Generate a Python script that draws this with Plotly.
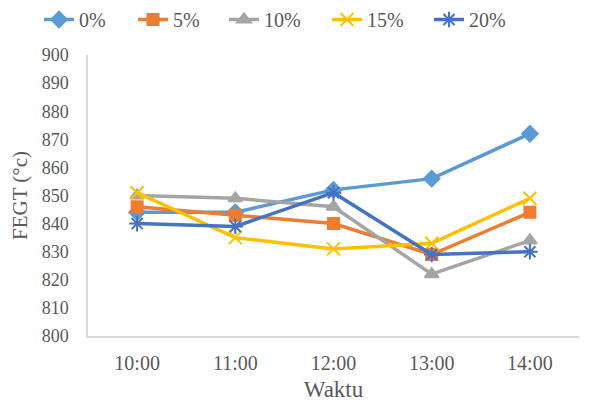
import plotly.graph_objects as go

times = ["10:00", "11:00", "12:00", "13:00", "14:00"]
series_names = ["0%", "5%", "10%", "15%", "20%"]
v0 = [844, 844, 852, 856, 872]
v5 = [846, 843, 840, 829, 844]
v10 = [850, 849, 846, 822, 834]
v15 = [851, 835, 831, 833, 849]
v20 = [840, 839, 851, 829, 830]
values = [v0, v5, v10, v15, v20]

colors = ["#5B9BD5", "#ED7D31", "#A5A5A5", "#FFC000", "#4472C4"]
symbols = ["diamond", "square", "triangle-up", "x-thin-open", "asterisk-open"]
sizes = [12, 11, 12, 13, 13]
legend_left_px = [39, 133, 224, 327, 429]

fig = go.Figure()
legend_ids = ["legend", "legend2", "legend3", "legend4", "legend5"]
for name, vals, c, s, sz, lid in zip(series_names, values, colors, symbols, sizes, legend_ids):
    fig.add_trace(go.Scatter(
        x=times, y=vals, name=name, mode="lines+markers",
        line=dict(color=c, width=3.5),
        marker=dict(symbol=s, size=sz, color=c, line=dict(color=c, width=2)),
        legend=lid,
    ))

font = "Liberation Serif, Times New Roman, serif"
fig.update_layout(
    width=590, height=403,
    margin=dict(l=88, r=11, t=55, b=67, autoexpand=False),
    paper_bgcolor="white", plot_bgcolor="white",
    font=dict(family=font, color="#595959", size=18),
    showlegend=True,
    xaxis=dict(type="category", range=[-0.5, 4.5], showgrid=False,
               showline=True, linecolor="#D9D9D9", linewidth=1.5,
               ticks="", tickfont=dict(size=20), ticklabelstandoff=8,
               title=dict(text="Waktu", font=dict(size=23), standoff=8)),
    yaxis=dict(range=[800, 900], dtick=10, showgrid=False,
               showline=True, linecolor="#D9D9D9", linewidth=1.5,
               ticks="", tickfont=dict(size=18), ticklabelstandoff=14,
               title=dict(text="FEGT (°c)", font=dict(size=21), standoff=8),
               zeroline=False),
)
for lid, lx in zip(legend_ids, legend_left_px):
    fig.update_layout({lid: dict(orientation="h", xref="container", x=lx / 590, xanchor="left",
                                 yref="container", y=1.0, yanchor="top",
                                 font=dict(size=20, color="#595959"),
                                 bgcolor="rgba(0,0,0,0)")})

fig.write_html("out.html")
